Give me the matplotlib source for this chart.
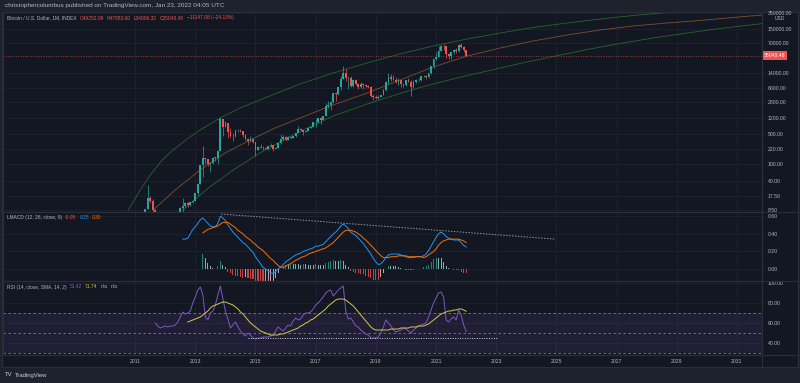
import numpy as np
import pandas as pd
import matplotlib.pyplot as plt
from matplotlib.lines import Line2D
from matplotlib.patches import Rectangle
from matplotlib.ticker import FixedLocator, NullLocator, FuncFormatter

plt.rcParams['font.family'] = ['Liberation Sans', 'DejaVu Sans']

# ---- monthly BTC candles, Jan 2011 .. Jan 2022 ----
first_month = '2011-01'
opens = [0.30, 0.52, 0.86, 0.78, 3.50, 8.74, 16.10, 13.35, 8.20, 5.14, 3.25, 2.97,
         4.72, 5.48, 4.86, 4.92, 4.97, 5.14, 6.69, 9.35, 10.16, 12.40, 11.20, 12.57,
         13.51, 20.41, 33.38, 93.03, 139.0, 128.8, 97.51, 106.21, 141.0, 141.89, 204.0, 1128.0,
         754.0, 938.0, 574.0, 458.0, 447.0, 628.0, 640.0, 586.0, 478.0, 387.0, 338.0, 378.0,
         320.0, 217.0, 254.0, 244.0, 236.0, 230.0, 263.0, 284.0, 230.0, 236.0, 314.0, 377.0,
         430.0, 368.0, 437.0, 416.0, 448.0, 531.0, 673.0, 624.0, 573.0, 609.0, 698.0, 742.0,
         963.0, 970.0, 1190.0, 1080.0, 1350.0, 2300.0, 2480.0, 2870.0, 4730.0, 4340.0, 6450.0, 10000.0,
         13860.0, 10220.0, 10330.0, 6930.0, 9240.0, 7490.0, 6390.0, 7730.0, 7030.0, 6630.0, 6370.0, 4040.0,
         3830.0, 3460.0, 3830.0, 4100.0, 5320.0, 8570.0, 10800.0, 10090.0, 9600.0, 8300.0, 9200.0, 7560.0,
         7200.0, 9350.0, 8540.0, 6420.0, 8630.0, 9450.0, 9140.0, 11350.0, 11650.0, 10780.0, 13800.0, 19700.0,
         29000.0, 33110.0, 45240.0, 58800.0, 57700.0, 37300.0, 35040.0, 41460.0, 47100.0, 43820.0, 61300.0, 57000.0,
         46252.09]
highs = [0.53, 1.10, 0.95, 3.50, 8.90, 31.90, 17.50, 15.00, 8.90, 5.20, 3.70, 4.80,
         7.38, 6.50, 5.40, 5.30, 5.20, 6.70, 9.60, 16.00, 12.90, 12.80, 12.80, 13.80,
         20.70, 33.80, 95.70, 266.0, 139.2, 129.5, 111.6, 136.0, 146.9, 215.0, 1242.0, 1156.0,
         1022.0, 938.0, 718.0, 548.0, 632.0, 680.0, 655.0, 605.0, 493.0, 412.0, 454.0, 385.0,
         320.0, 266.0, 300.0, 261.0, 248.0, 268.0, 318.0, 285.0, 247.0, 336.0, 495.0, 467.0,
         463.0, 446.0, 440.0, 466.0, 548.0, 780.0, 704.0, 626.0, 614.0, 728.0, 755.0, 980.0,
         1153.0, 1210.0, 1290.0, 1370.0, 2760.0, 2990.0, 2920.0, 4750.0, 4980.0, 6470.0, 11500.0, 19800.0,
         17200.0, 11800.0, 11700.0, 9760.0, 9990.0, 7770.0, 8500.0, 7770.0, 7410.0, 7010.0, 6610.0, 4310.0,
         4100.0, 4200.0, 4140.0, 5620.0, 9090.0, 13800.0, 13200.0, 12300.0, 10900.0, 10500.0, 9510.0, 7750.0,
         9580.0, 10500.0, 9180.0, 9460.0, 10080.0, 10390.0, 11450.0, 12480.0, 12080.0, 14000.0, 19900.0, 29300.0,
         41950.0, 58350.0, 61780.0, 64900.0, 59600.0, 41330.0, 42320.0, 50500.0, 52920.0, 67000.0, 69000.0, 59120.0,
         47953.00]
lows = [0.29, 0.52, 0.68, 0.56, 2.80, 8.60, 12.40, 6.80, 4.50, 2.00, 2.00, 2.80,
        4.70, 4.10, 4.40, 4.70, 4.90, 5.10, 6.50, 7.10, 9.90, 9.90, 10.50, 12.40,
        13.20, 19.10, 33.10, 50.0, 100.0, 88.5, 65.5, 102.5, 119.0, 99.0, 197.0, 455.0,
        740.0, 410.0, 442.0, 340.0, 424.0, 550.0, 565.0, 440.0, 375.0, 280.0, 325.0, 310.0,
        152.0, 212.0, 237.0, 216.0, 225.0, 218.0, 253.0, 199.0, 225.0, 235.0, 300.0, 350.0,
        355.0, 364.0, 404.0, 413.0, 436.0, 522.0, 600.0, 470.0, 567.0, 604.0, 683.0, 735.0,
        752.0, 925.0, 890.0, 1060.0, 1340.0, 2100.0, 1830.0, 2670.0, 2970.0, 4150.0, 5500.0, 9800.0,
        9100.0, 5900.0, 6500.0, 6430.0, 7030.0, 5760.0, 6110.0, 5880.0, 6110.0, 6200.0, 3650.0, 3150.0,
        3400.0, 3390.0, 3740.0, 4070.0, 5300.0, 7440.0, 9100.0, 9350.0, 7760.0, 7300.0, 6530.0, 6410.0,
        6870.0, 8450.0, 3850.0, 6160.0, 8110.0, 8910.0, 8980.0, 10950.0, 9880.0, 10380.0, 13240.0, 17600.0,
        28130.0, 32300.0, 44950.0, 47040.0, 30000.0, 28800.0, 29300.0, 37330.0, 39600.0, 43300.0, 53250.0, 42000.0,
        34006.32]
closes = [0.52, 0.86, 0.78, 3.50, 8.74, 16.10, 13.35, 8.20, 5.14, 3.25, 2.97, 4.72,
          5.48, 4.86, 4.92, 4.97, 5.14, 6.69, 9.35, 10.16, 12.40, 11.20, 12.57, 13.51,
          20.41, 33.38, 93.03, 139.0, 128.8, 97.51, 106.21, 141.0, 141.89, 204.0, 1128.0, 754.0,
          938.0, 574.0, 458.0, 447.0, 628.0, 640.0, 586.0, 478.0, 387.0, 338.0, 378.0, 320.0,
          217.0, 254.0, 244.0, 236.0, 230.0, 263.0, 284.0, 230.0, 236.0, 314.0, 377.0, 430.0,
          368.0, 437.0, 416.0, 448.0, 531.0, 673.0, 624.0, 573.0, 609.0, 698.0, 742.0, 963.0,
          970.0, 1190.0, 1080.0, 1350.0, 2300.0, 2480.0, 2870.0, 4730.0, 4340.0, 6450.0, 10000.0, 13860.0,
          10220.0, 10330.0, 6930.0, 9240.0, 7490.0, 6390.0, 7730.0, 7030.0, 6630.0, 6370.0, 4040.0, 3830.0,
          3460.0, 3830.0, 4100.0, 5320.0, 8570.0, 10800.0, 10090.0, 9600.0, 8300.0, 9200.0, 7560.0, 7200.0,
          9350.0, 8540.0, 6420.0, 8630.0, 9450.0, 9140.0, 11350.0, 11650.0, 10780.0, 13800.0, 19700.0, 29000.0,
          33110.0, 45240.0, 58800.0, 57700.0, 37300.0, 35040.0, 41460.0, 47100.0, 43820.0, 61300.0, 57000.0, 46252.09,
          35048.48]

# growth bands drawn on the chart (decimal year, price)
top_years = [2010.77, 2011.17, 2011.50, 2011.90, 2012.26, 2012.73, 2013.16, 2013.82, 2014.49, 2015.39,
             2016.48, 2017.58, 2018.71, 2019.80, 2020.90, 2022.03, 2023.13, 2024.22, 2025.35, 2026.45,
             2027.54, 2028.67, 2029.77]
top_band = [8.3, 24.5, 55, 124, 213, 386, 628, 1200, 2065, 3740,
            7550, 13700, 23500, 38200, 58900, 85900, 118900, 160000, 204000, 253000,
            306000, 360000, 412000]
mid_years = [2011.60, 2012.33, 2013.16, 2013.99, 2014.82, 2015.65, 2016.48, 2017.58, 2018.71, 2019.80,
             2020.90, 2022.03, 2023.13, 2024.22, 2025.35, 2026.45, 2027.54, 2028.67, 2029.77, 2030.87, 2031.86]
mid_band = [8.3, 24.5, 72, 181, 366, 700, 1200, 2430, 4640, 9370,
            18900, 34300, 52800, 77100, 106700, 140000, 173500, 204000, 234000, 275000, 315000]
low_years = [2012.59, 2013.43, 2014.26, 2015.09, 2015.92, 2016.75, 2017.58, 2018.71, 2019.80, 2020.47,
             2021.56, 2022.69, 2023.79, 2024.89, 2026.02, 2027.11, 2028.21, 2029.34, 2030.43, 2031.86]
low_band = [8.3, 27.3, 72.3, 172, 366, 719, 1340, 2560, 4520, 6250,
            9890, 15200, 22900, 33400, 48700, 67400, 90800, 118900, 151700, 198600]

price_ticks = [8.5, 17.5, 40, 100, 220, 500, 1200, 2800, 6000, 14000, 70000, 150000, 350000]
year_ticks = [2011, 2013, 2015, 2017, 2019, 2021, 2023, 2025, 2027, 2029, 2031]

# ---- LMACD (12, 26, close, 9) ----
macd_start = '2012-08'
macd = [0.34, 0.34, 0.35, 0.40, 0.45,
        0.48, 0.52, 0.56, 0.58, 0.55, 0.52, 0.49, 0.48, 0.48, 0.52, 0.60, 0.58,
        0.55, 0.50, 0.46, 0.42, 0.39, 0.36, 0.33, 0.30, 0.28, 0.25, 0.22, 0.19,
        0.14, 0.10, 0.06, 0.02, 0.00, -0.02, -0.04, -0.05, -0.03, 0.00, 0.02, 0.05,
        0.08, 0.10, 0.12, 0.14, 0.16, 0.17, 0.18, 0.20, 0.21, 0.22, 0.23, 0.24,
        0.26, 0.26, 0.27, 0.28, 0.31, 0.34, 0.37, 0.40, 0.42, 0.45, 0.49, 0.51,
        0.49, 0.46, 0.42, 0.40, 0.38, 0.35, 0.32, 0.29, 0.25, 0.21, 0.17, 0.12,
        0.08, 0.05, 0.06, 0.09, 0.13, 0.16, 0.17, 0.17, 0.17, 0.17, 0.16, 0.15,
        0.14, 0.13, 0.13, 0.13, 0.14, 0.14, 0.14, 0.15, 0.17, 0.21, 0.26, 0.31,
        0.36, 0.40, 0.42, 0.40, 0.37, 0.35, 0.34, 0.33, 0.33, 0.33, 0.30, 0.27,
        0.25]
signal_start = '2013-04'
signal = [0.41, 0.43, 0.45, 0.46, 0.47, 0.48, 0.49, 0.51, 0.53,
          0.53, 0.53, 0.51, 0.49, 0.47, 0.44, 0.42, 0.40, 0.37, 0.35, 0.33, 0.30,
          0.28, 0.25, 0.23, 0.21, 0.18, 0.15, 0.12, 0.10, 0.07, 0.04, 0.02, 0.02,
          0.03, 0.05, 0.06, 0.08, 0.10, 0.11, 0.13, 0.14, 0.15, 0.17, 0.18, 0.19,
          0.20, 0.21, 0.22, 0.23, 0.24, 0.26, 0.28, 0.30, 0.33, 0.36, 0.39, 0.42,
          0.44, 0.44, 0.44, 0.43, 0.42, 0.40, 0.38, 0.35, 0.33, 0.30, 0.27, 0.24,
          0.21, 0.18, 0.15, 0.13, 0.13, 0.13, 0.14, 0.14, 0.14, 0.15, 0.15, 0.15,
          0.15, 0.14, 0.14, 0.14, 0.14, 0.14, 0.14, 0.13, 0.14, 0.16, 0.18, 0.20,
          0.23, 0.27, 0.30, 0.32, 0.33, 0.34, 0.34, 0.34, 0.34, 0.34, 0.33, 0.32,
          0.30]
hist = [0.17, 0.12, 0.07, 0.03, 0.01, 0.00, 0.03, 0.09, 0.05,
        0.02, -0.03, -0.05, -0.07, -0.08, -0.08, -0.09, -0.10, -0.09, -0.10, -0.11, -0.11,
        -0.14, -0.15, -0.17, -0.19, -0.18, -0.17, -0.16, -0.15, -0.10, -0.04, 0.00, 0.03,
        0.05, 0.05, 0.06, 0.06, 0.06, 0.06, 0.05, 0.06, 0.06, 0.05, 0.05, 0.05,
        0.06, 0.05, 0.05, 0.05, 0.07, 0.08, 0.09, 0.10, 0.09, 0.09, 0.10, 0.09,
        0.05, 0.02, -0.02, -0.03, -0.04, -0.05, -0.06, -0.06, -0.08, -0.09, -0.10, -0.12,
        -0.13, -0.13, -0.09, -0.04, 0.00, 0.03, 0.03, 0.03, 0.03, 0.02, 0.01, 0.00,
        -0.01, -0.01, -0.01, -0.01, 0.00, 0.00, 0.00, 0.02, 0.03, 0.05, 0.08, 0.11,
        0.13, 0.13, 0.12, 0.08, 0.04, 0.01, 0.00, -0.01, -0.01, -0.01, -0.03, -0.05,
        -0.05]
macd_trend_x = [2013.86, 2024.95]
macd_trend_y = [0.625, 0.34]

# ---- RSI (14) and its SMA (14) ----
rsi_start = '2011-09'
rsi = [60, 57, 55, 56,
       57, 56, 57, 57, 58, 61, 66, 71, 69, 70, 72, 80,
       86, 93, 96, 88, 66, 63, 70, 72, 78, 88, 97, 84,
       72, 64, 55, 58, 61, 56, 52, 49, 47, 50, 48, 45,
       44, 45, 45, 46, 46, 46, 47, 48, 52, 56, 54, 52,
       55, 58, 57, 62, 65, 63, 64, 68, 70, 70, 71, 74,
       78, 80, 83, 86, 90, 92, 93, 87, 90, 93, 95, 97,
       72, 64, 65, 61, 57, 56, 53, 51, 49, 48, 45, 45,
       45, 46, 50, 56, 63, 60, 57, 53, 51, 52, 53, 55,
       54, 52, 50, 53, 55, 57, 58, 59, 60, 66, 73, 80,
       85, 90, 91, 86, 63, 61, 64, 66, 63, 73, 68, 58,
       51.42]
rsi_sma_start = '2012-10'
rsi_sma = [61, 62, 63,
           64, 65, 66, 68, 70, 72, 75, 77, 78, 79, 80, 81,
           81, 80, 79, 78, 76, 74, 71, 69, 66, 63, 60, 58,
           56, 54, 52, 51, 50, 49, 48, 48, 48, 48, 49, 49,
           50, 51, 52, 53, 54, 55, 57, 58, 60, 61, 63, 64,
           66, 68, 70, 72, 74, 77, 79, 81, 83, 84, 84, 84,
           83, 81, 79, 77, 74, 71, 68, 65, 62, 59, 56, 54,
           53, 53, 53, 53, 53, 53, 54, 54, 54, 54, 55, 55,
           55, 55, 56, 56, 56, 57, 57, 57, 58, 59, 61, 63,
           65, 67, 69, 70, 71, 72, 72, 73, 73, 74, 74, 73,
           71.74]
rsi_line_x = [2014.75, 2023.06]
rsi_line_y = [45, 45]


def month_years(start, n):
    p = pd.period_range(start, periods=n, freq='M')
    return np.asarray(p.year + (p.month - 1) / 12.0, dtype=float)


BG = '#131722'
BORDER = '#2a2e39'
GRID = '#1e2230'
TXT = '#b2b5be'
UP, DOWN = '#26a69a', '#ef5350'

W, H = 800, 383
fig = plt.figure(figsize=(W / 100, H / 100), dpi=100)
fig.patch.set_facecolor('#1e222d')
fig.add_artist(Rectangle((2 / W, 1 - 367 / H), 796 / W, 355 / H, transform=fig.transFigure,
                         facecolor=BG, edgecolor=BORDER, lw=0.8, zorder=0))


def pane(y0, y1):
    a = fig.add_axes([3 / W, 1 - y1 / H, 759 / W, (y1 - y0) / H])
    a.set_facecolor(BG)
    for s in a.spines.values():
        s.set_color(BORDER)
        s.set_linewidth(0.8)
    a.yaxis.tick_right()
    a.tick_params(axis='both', length=0, labelsize=3.7, labelcolor=TXT, pad=4)
    a.grid(True, color=GRID, lw=0.6)
    a.set_axisbelow(True)
    a.set_xlim(2006.61, 2031.83)
    a.xaxis.set_major_locator(FixedLocator(year_ticks))
    a.yaxis.set_major_formatter(FuncFormatter(lambda v, _: f'{v:.2f}'))
    return a


ax = pane(12, 212)
am = pane(212, 281)
ar = pane(281, 355)
ax.tick_params(labelbottom=False)
am.tick_params(labelbottom=False)

# price pane
t = month_years(first_month, len(closes))
o, h, l, c = map(np.asarray, (opens, highs, lows, closes))
cols = np.where(c >= o, UP, DOWN)
ax.set_yscale('log')
ax.set_ylim(7.47, 370000)
ax.yaxis.set_major_locator(FixedLocator(price_ticks))
ax.yaxis.set_minor_locator(NullLocator())
ax.yaxis.set_major_formatter(FuncFormatter(lambda v, _: f'{v:.2f}'))

ax.plot(top_years, top_band, color='#2f7d32', lw=0.6, alpha=0.75, zorder=2)
ax.plot(mid_years, mid_band, color='#a0603a', lw=0.6, alpha=0.75, zorder=2)
ax.plot(low_years, low_band, color='#2f7d32', lw=0.6, alpha=0.75, zorder=2)

ax.vlines(t, l, h, colors=cols, lw=0.5, zorder=3)
ax.bar(t, np.maximum(np.abs(c - o), c * 0.01), bottom=np.minimum(o, c), width=0.06,
       color=cols, lw=0, zorder=3)

ax.axhline(c[-1], color=DOWN, ls=(0, (1, 2)), lw=0.6, alpha=0.8, zorder=2)
ax.text(1.002, c[-1], f'{c[-1]:.2f}', transform=ax.get_yaxis_transform(), color='white',
        fontsize=3.7, va='center', ha='left', clip_on=False, zorder=5,
        bbox=dict(boxstyle='square,pad=0.35', facecolor=DOWN, edgecolor='none'))

# LMACD pane
am.set_ylim(-0.136, 0.648)
am.yaxis.set_major_locator(FixedLocator([0.0, 0.2, 0.4, 0.6]))
tm = month_years(macd_start, len(macd))
ts = month_years(signal_start, len(signal))
hv = np.asarray(hist)
prev = np.concatenate([[0.0], hv[:-1]])
hcols = np.where(hv >= 0, np.where(hv > prev, '#26a69a', '#b2dfdb'),
                 np.where(hv > prev, '#ffcdd2', '#ff5252'))
am.bar(ts, hv, width=0.035, color=hcols, lw=0, alpha=0.75, zorder=2)
am.plot(tm, macd, color='#2196f3', lw=0.7, zorder=3)
am.plot(ts, signal, color='#ff6d00', lw=0.7, zorder=3)
am.plot(macd_trend_x, macd_trend_y, color='#9598a1', ls=(0, (1.5, 1.5)), lw=0.7, zorder=3)

# RSI pane
ar.set_ylim(28, 102)
ar.yaxis.set_major_locator(FixedLocator([40, 60, 80, 100]))
ar.axhspan(30, 70, color='#7e57c2', alpha=0.12, lw=0)
for lvl in (70, 50, 30):
    ar.axhline(lvl, color='#787b86', ls=(0, (3, 3)), lw=0.6)
ar.plot(month_years(rsi_start, len(rsi)), rsi, color='#7e57c2', lw=0.7, zorder=3)
ar.plot(month_years(rsi_sma_start, len(rsi_sma)), rsi_sma, color='#d9c44a', lw=0.7, zorder=3)
ar.plot(rsi_line_x, rsi_line_y, color='#d1d4dc', ls=(0, (1, 1.5)), lw=0.7, zorder=3)
ar.set_xticklabels([str(y) for y in year_ticks])
ar.tick_params(axis='x', pad=3)

# borders of price column and time row
for yy in (212, 281, 355):
    fig.add_artist(Line2D([3 / W, 798 / W], [1 - yy / H] * 2, color=BORDER, lw=0.8))
fig.add_artist(Line2D([762 / W] * 2, [1 - 12 / H, 1 - 367 / H], color=BORDER, lw=0.8))

# texts
renderer = fig.canvas.get_renderer()


def text_row(x, y, parts, size, gap=3):
    for s, col in parts:
        tt = fig.text(x / W, 1 - y / H, s, color=col, fontsize=size, va='center', ha='left')
        x += tt.get_window_extent(renderer=renderer).width + gap


text_row(5, 6, [('christophercolumbus published on TradingView.com, Jan 23, 2022 04:05 UTC', TXT)], 4.6)
text_row(7, 18, [('Bitcoin / U.S. Dollar, 1M, INDEX', TXT), ('O46252.09', DOWN), ('H47953.00', DOWN),
                 ('L34006.32', DOWN), ('C35048.48', DOWN), ('\u221211147.08 (\u221224.13%)', DOWN)], 3.5)
text_row(7, 217, [('LMACD (12, 26, close, 9)', TXT), ('-0.05', DOWN), ('0.25', '#2196f3'),
                  ('0.30', '#ff6d00')], 3.5)
text_row(7, 287, [('RSI (14, close, SMA, 14, 2)', TXT), ('51.42', '#7e57c2'), ('71.74', '#d9c44a'),
                  ('n/a', TXT), ('n/a', TXT)], 3.5)
fig.text(780 / W, 1 - 18.5 / H, 'USD', color=TXT, fontsize=3.5, ha='center', va='center')
text_row(5, 375, [('TV', '#d1d4dc'), ('TradingView', '#d1d4dc')], 4.2, gap=2)

fig.savefig('out.png', dpi=100, facecolor=fig.get_facecolor())
